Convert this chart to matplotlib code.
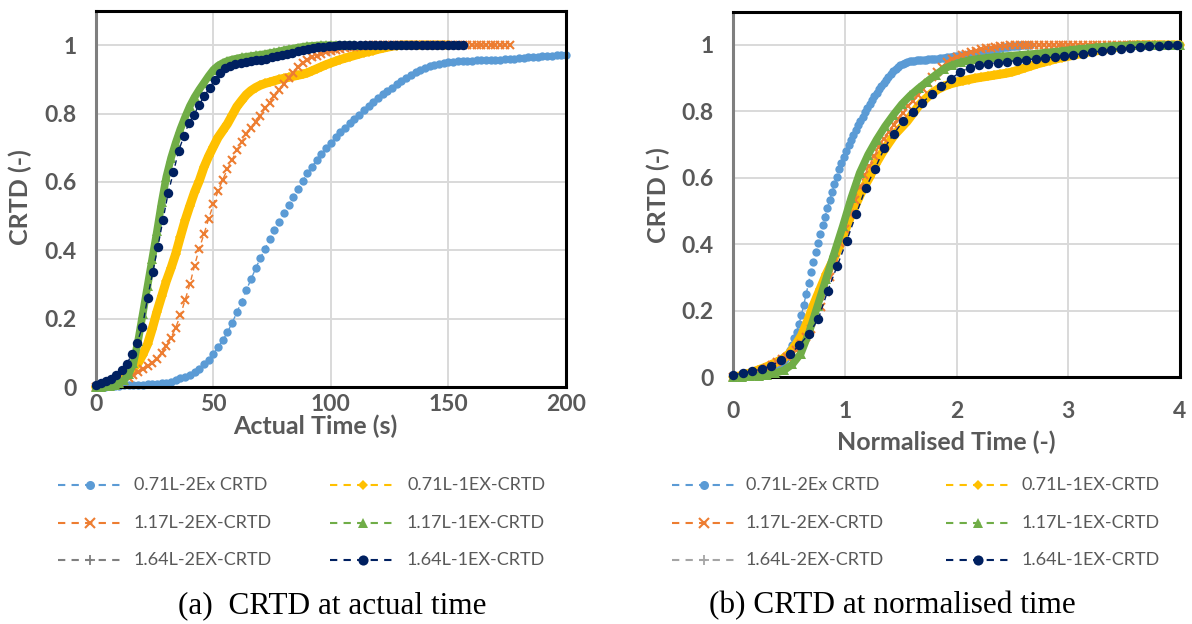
import numpy as np
import matplotlib
matplotlib.use("Agg")
import matplotlib.pyplot as plt
from matplotlib.lines import Line2D

# CRTD readings, one value per sampling step (dt in seconds)
dt_blue = 2.0
crtd_blue = [0.0, 0.0, 0.001, 0.002, 0.003, 0.004, 0.005, 0.006, 0.006, 0.007, 0.007, 0.008, 0.008,
             0.009, 0.011, 0.013, 0.016, 0.02, 0.025, 0.03, 0.036, 0.044, 0.054, 0.066, 0.08,
             0.097, 0.116, 0.137, 0.16, 0.188, 0.218, 0.25, 0.283, 0.315, 0.347, 0.377, 0.405,
             0.432, 0.458, 0.483, 0.508, 0.532, 0.556, 0.58, 0.603, 0.625, 0.645, 0.664, 0.682,
             0.699, 0.715, 0.73, 0.745, 0.758, 0.771, 0.784, 0.797, 0.81, 0.822, 0.834, 0.845,
             0.856, 0.866, 0.876, 0.886, 0.895, 0.904, 0.913, 0.921, 0.928, 0.934, 0.939, 0.943,
             0.946, 0.949, 0.951, 0.952, 0.953, 0.954, 0.955, 0.955, 0.956, 0.956, 0.957, 0.957,
             0.958, 0.958, 0.959, 0.96, 0.961, 0.962, 0.963, 0.964, 0.965, 0.966, 0.967, 0.968,
             0.969, 0.97, 0.971, 0.972, 0.973, 0.974, 0.975, 0.977, 0.978, 0.98, 0.981, 0.983,
             0.984, 0.986, 0.987, 0.989, 0.99, 0.991, 0.993, 0.994, 0.995, 0.996, 0.997, 0.998,
             0.998, 0.999, 0.999, 1.0, 1.0, 1.0]

dt_yellow = 2.0
crtd_yellow = [0.0, 0.003, 0.008, 0.014, 0.021, 0.028, 0.036, 0.045, 0.055, 0.07, 0.095, 0.125,
               0.17, 0.22, 0.265, 0.31, 0.348, 0.39, 0.44, 0.488, 0.53, 0.57, 0.603, 0.643,
               0.675, 0.703, 0.73, 0.75, 0.77, 0.795, 0.82, 0.838, 0.855, 0.867, 0.876, 0.883,
               0.888, 0.892, 0.896, 0.9, 0.903, 0.906, 0.909, 0.912, 0.915, 0.919, 0.925, 0.931,
               0.937, 0.943, 0.948, 0.953, 0.958, 0.962, 0.966, 0.97, 0.974, 0.978, 0.981, 0.984,
               0.988, 0.991, 0.994, 0.997, 0.999, 1.0] + [1.0] * 10

dt_orange = 2.0
crtd_orange = [0.0, 0.001, 0.002, 0.004, 0.007, 0.012, 0.019, 0.027, 0.035, 0.044, 0.053, 0.06,
               0.069, 0.082, 0.1, 0.12, 0.144, 0.174, 0.21, 0.255, 0.3, 0.355, 0.405, 0.447,
               0.492, 0.534, 0.573, 0.607, 0.637, 0.665, 0.693, 0.716, 0.739, 0.758, 0.776, 0.794,
               0.815, 0.832, 0.85, 0.868, 0.886, 0.903, 0.92, 0.935, 0.948, 0.958, 0.964, 0.969,
               0.974, 0.979, 0.983, 0.987, 0.99, 0.992, 0.994, 0.996, 0.998, 0.999] + [1.0] * 31

dt_green = 2.0
crtd_green = [0.0, 0.001, 0.002, 0.004, 0.007, 0.012, 0.02, 0.038, 0.07, 0.135, 0.215, 0.295,
              0.375, 0.455, 0.54, 0.615, 0.67, 0.715, 0.755, 0.79, 0.822, 0.848, 0.87, 0.89,
              0.91, 0.928, 0.94, 0.948, 0.954, 0.958, 0.961, 0.964, 0.966, 0.968, 0.97, 0.972,
              0.974, 0.977, 0.979, 0.982, 0.985, 0.988, 0.99, 0.993, 0.995, 0.997, 0.998, 0.999] + [1.0] * 8

dt_gray = 2.0
crtd_gray = []  # no points visible in either panel

dt_navy = 2.2
crtd_navy = [0.006, 0.012, 0.018, 0.024, 0.034, 0.05, 0.068, 0.096, 0.13, 0.175, 0.26, 0.335,
             0.41, 0.49, 0.568, 0.628, 0.69, 0.733, 0.772, 0.797, 0.826, 0.852, 0.875, 0.898,
             0.918, 0.932, 0.94, 0.944, 0.947, 0.95, 0.953, 0.956, 0.958, 0.961, 0.964, 0.967,
             0.97, 0.974, 0.978, 0.982, 0.986, 0.989, 0.992, 0.994, 0.996, 0.998, 0.999, 1.0] + [1.0] * 24

# mean residence time used for the normalised panel (s)
tau_blue, tau_yellow, tau_orange, tau_green, tau_gray, tau_navy = 95.0, 36.0, 46.0, 26.5, 26.0, 26.0

labels = ["0.71L-2Ex CRTD", "0.71L-1EX-CRTD", "1.17L-2EX-CRTD",
          "1.17L-1EX-CRTD", "1.64L-2EX-CRTD", "1.64L-1EX-CRTD"]

series = [
    dict(y=crtd_blue, dt=dt_blue, tau=tau_blue, c="#5B9BD5", m="o", ms=6, mew=0, band=0),
    dict(y=crtd_yellow, dt=dt_yellow, tau=tau_yellow, c="#FFC000", m="D", ms=5, mew=0, band=6.5),
    dict(y=crtd_orange, dt=dt_orange, tau=tau_orange, c="#ED7D31", m="x", ms=6, mew=1.5, band=0),
    dict(y=crtd_green, dt=dt_green, tau=tau_green, c="#70AD47", m="^", ms=6.5, mew=0, band=5.5),
    dict(y=crtd_gray, dt=dt_gray, tau=tau_gray, c="#7F7F7F", m="+", ms=6, mew=1.3, band=0),
    dict(y=crtd_navy, dt=dt_navy, tau=tau_navy, c="#002060", m="o", ms=6.8, mew=0, band=0),
]

GREY = "#595959"
W, H = 1192, 624
fig = plt.figure(figsize=(W / 100, H / 100), dpi=100)


def px(x, y):
    return x / W, 1 - y / H


ax1 = fig.add_axes([95.8 / W, 1 - 387 / H, 470.2 / W, 376 / H])
ax2 = fig.add_axes([733.3 / W, 1 - 377 / H, 446.7 / W, 365.2 / H])


def draw(ax, normalise, xmax):
    for k, s in enumerate(series):
        y = np.asarray(s["y"], dtype=float)
        t = s["dt"] * np.arange(len(y))
        if normalise:
            t = t / s["tau"]
        keep = t <= xmax + 1e-9
        t, y = t[keep], y[keep]
        if s["band"]:
            ax.plot(t, y, color=s["c"], lw=s["band"], solid_capstyle="round",
                    zorder=2 + k, clip_on=False)
        ax.plot(t, y, color=s["c"], lw=1.0, ls=(0, (4, 3)), marker=s["m"], ms=s["ms"],
                mew=s["mew"], mec=s["c"], mfc=s["c"], zorder=2 + k, clip_on=False)


def style(ax, xmax, xticks, xpad):
    ax.set_xlim(0, xmax)
    ax.set_ylim(0, 1.1)
    ax.set_xticks(xticks)
    ax.set_yticks([0, 0.2, 0.4, 0.6, 0.8, 1.0])
    ax.set_yticklabels(["0", "0.2", "0.4", "0.6", "0.8", "1"])
    ax.grid(True, color="#D9D9D9", lw=1.4)
    ax.set_axisbelow(True)
    ax.tick_params(axis="both", length=0, labelsize=16.5, labelcolor=GREY)
    ax.tick_params(axis="y", pad=14)
    ax.tick_params(axis="x", pad=xpad)
    for lab in ax.get_xticklabels() + ax.get_yticklabels():
        lab.set_fontweight("bold")
        lab.set_family("Lato")
    for side in ["top", "right", "bottom"]:
        ax.spines[side].set_color("black")
        ax.spines[side].set_linewidth(2.2)
    ax.spines["left"].set_color("#7F7F7F")
    ax.spines["left"].set_linewidth(2.2)


draw(ax1, False, 200)
draw(ax2, True, 4)
style(ax1, 200, [0, 50, 100, 150, 200], 5)
style(ax2, 4, [0, 1, 2, 3, 4], 17)

title_kw = dict(family="Lato", fontweight="bold", fontsize=18, color=GREY, ha="center", va="center")
fig.text(*px(315, 426), "Actual Time (s)", **title_kw)
fig.text(*px(946, 442), "Normalised Time (-)", **title_kw)
fig.text(*px(20, 197), "CRTD (-)", rotation=90, **title_kw)
fig.text(*px(658, 195), "CRTD (-)", rotation=90, **title_kw)

# legends laid out in Excel order: two columns, three rows
rows = [485, 522.7, 560]
legend_cols = [
    [(58, 121, 134), (330, 395, 407)],
    [(672, 735, 746), (946, 1009, 1022)],
]
legend_gray = ["#7F7F7F", "#A5A5A5"]
for p, cols in enumerate(legend_cols):
    for k, s in enumerate(series):
        x0, x1, xt = cols[k % 2]
        yy = rows[k // 2]
        col = legend_gray[p] if k == 4 else s["c"]
        xa, ya = px(x0, yy)
        xb, _ = px(x1, yy)
        fig.add_artist(Line2D([xa, (xa + xb) / 2, xb], [ya, ya, ya], transform=fig.transFigure,
                              color=col, lw=1.5, ls=(0, (3.5, 3)), marker=s["m"],
                              markevery=[1], ms=s["ms"] + 0.5, mew=s["mew"] or 0,
                              mec=col, mfc=col))
        fig.text(*px(xt, yy), labels[k], family="Lato", fontsize=13, color=GREY,
                 ha="left", va="center")

cap_kw = dict(family="Liberation Serif", fontsize=22.5, color="black", ha="center", va="center")
fig.text(*px(332, 606), "(a)  CRTD at actual time", **cap_kw)
fig.text(*px(892, 606), "(b) CRTD at normalised time", **cap_kw)

fig.savefig("out.png", dpi=100)
